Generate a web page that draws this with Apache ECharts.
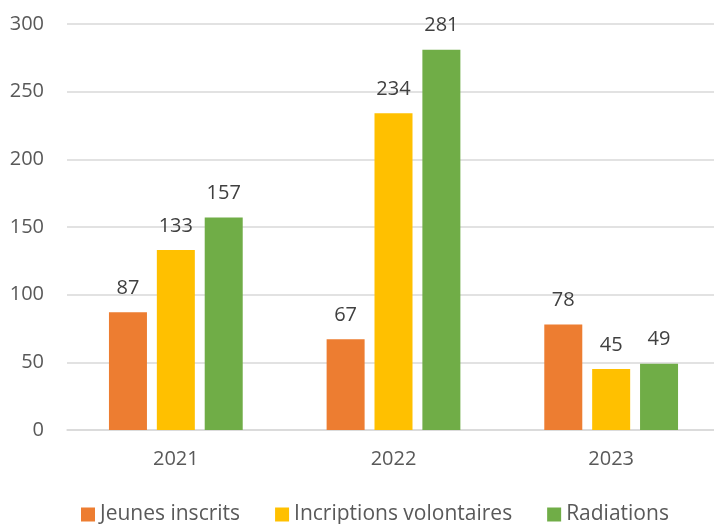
<!DOCTYPE html>
<html><head><meta charset="utf-8">
<script src="https://cdn.jsdelivr.net/npm/echarts@6/dist/echarts.min.js"></script>
<style>html,body{margin:0;padding:0;background:#fff}#c{width:714px;height:524px}</style>
</head><body><div id="c"></div>
<script>
const categories = ['2021', '2022', '2023'];
const jeunesInscrits = [87, 67, 78];
const inscriptionsVolontaires = [133, 234, 45];
const radiations = [157, 281, 49];
const yTicks = { min: 0, max: 300, interval: 50 };

const FONT = '"Open Sans", sans-serif';
const TXT = '#595959';
const chart = echarts.init(document.getElementById('c'), null, { renderer: 'canvas' });
function s(name, data, color) {
  return {
    name, type: 'bar', data, barWidth: 38, barGap: '26%',
    itemStyle: { color },
    label: { show: true, position: 'top', distance: 14, color: '#404040', fontSize: 20, fontFamily: FONT },
    emphasis: { disabled: true }
  };
}
chart.setOption({
  animation: false,
  textStyle: { fontFamily: FONT },
  grid: { left: 67, top: 24, width: 653, bottom: 94, containLabel: false, outerBoundsMode: 'none' },
  legend: {
    top: 504, left: 81, padding: 0, itemWidth: 14, itemHeight: 14, itemGap: 35,
    icon: 'rect',
    textStyle: { fontSize: 21, color: TXT, fontFamily: FONT },
    data: ['Jeunes inscrits', 'Incriptions volontaires', 'Radiations']
  },
  xAxis: {
    type: 'category', data: categories,
    axisLine: { lineStyle: { color: '#d9d9d9', width: 1.5 } },
    axisTick: { show: false },
    axisLabel: { fontSize: 20, color: TXT, margin: 19, fontFamily: FONT }
  },
  yAxis: {
    type: 'value', min: yTicks.min, max: yTicks.max, interval: yTicks.interval,
    axisLine: { show: false }, axisTick: { show: false },
    axisLabel: { fontSize: 20, color: TXT, margin: 23, fontFamily: FONT },
    splitLine: { lineStyle: { color: '#d9d9d9', width: 1.5 } }
  },
  series: [
    s('Jeunes inscrits', jeunesInscrits, '#ED7D31'),
    s('Incriptions volontaires', inscriptionsVolontaires, '#FFC000'),
    s('Radiations', radiations, '#70AD47')
  ]
});
</script></body></html>
